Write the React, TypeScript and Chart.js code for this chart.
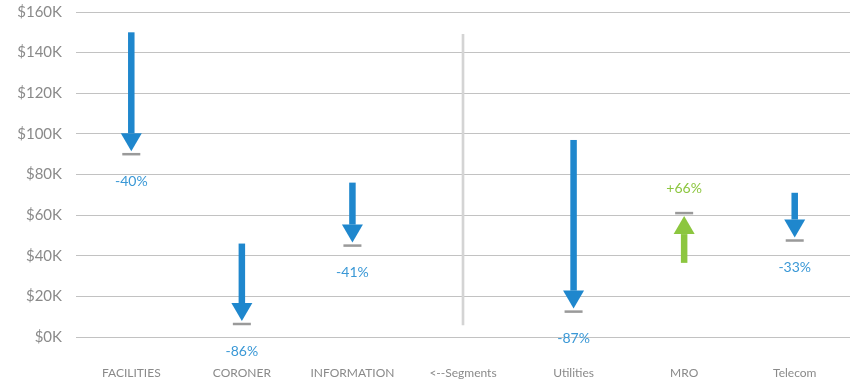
import React, { useEffect, useRef } from 'react';
import { Chart, registerables } from 'chart.js';

Chart.register(...registerables);

const categories = ['FACILITIES', 'CORONER', 'INFORMATION', '<--Segments', 'Utilities', 'MRO', 'Telecom'];
const startValues: (number | null)[] = [150000, 46000, 76000, null, 97000, 36500, 71000];
const endValues: (number | null)[] = [90000, 6400, 45000, null, 12500, 61000, 47500];
const changeLabels = ['-40%', '-86%', '-41%', '', '-87%', '+66%', '-33%'];
const separatorIndex = 3;
const separatorRange: [number, number] = [6000, 149000];
const yMin = 0;
const yMax = 160000;
const yStep = 20000;

const BLUE = '#1f87cd';
const GREEN = '#8cc63f';
const BLUE_TEXT = '#3a98d6';
const GREEN_TEXT = '#8cc63f';
const FONT = 'Lato, "Open Sans", sans-serif';

const arrowPlugin = {
  id: 'arrows',
  afterDatasetsDraw(chart: any) {
    const ctx = chart.ctx;
    const xs = chart.scales.x;
    const ys = chart.scales.y;
    ctx.save();
    for (let i = 0; i < categories.length; i++) {
      const s = startValues[i];
      const e = endValues[i];
      if (s == null || e == null) continue;
      const x = xs.getPixelForValue(i);
      const y0 = ys.getPixelForValue(s);
      const y1 = ys.getPixelForValue(e);
      const dir = y1 > y0 ? 1 : -1;
      const up = dir < 0;
      const color = up ? GREEN : BLUE;
      const tipY = y1 - dir * 3;
      const headBase = tipY - dir * 18;
      const shaftW = 6.5;
      const headW = 21;
      ctx.fillStyle = color;
      ctx.fillRect(x - shaftW / 2, Math.min(y0, headBase), shaftW, Math.abs(headBase - y0));
      ctx.beginPath();
      ctx.moveTo(x - headW / 2, headBase);
      ctx.lineTo(x + headW / 2, headBase);
      ctx.lineTo(x, tipY);
      ctx.closePath();
      ctx.fill();
      ctx.fillStyle = '#9a9a9a';
      ctx.fillRect(x - 9, y1 - 1.25, 18, 2.5);
      ctx.fillStyle = up ? GREEN_TEXT : BLUE_TEXT;
      ctx.font = '14px ' + FONT;
      ctx.textAlign = 'center';
      ctx.textBaseline = 'middle';
      ctx.fillText(changeLabels[i], x, up ? y1 - 25 : y1 + 27);
    }
    ctx.restore();
  },
};

export default function App() {
  const ref = useRef<HTMLCanvasElement | null>(null);
  useEffect(() => {
    if (!ref.current) return;
    const sepData = categories.map((_, i) => (i === separatorIndex ? separatorRange : null));
    const chart = new Chart(ref.current, {
      type: 'bar',
      data: {
        labels: categories,
        datasets: [
          {
            label: 'separator',
            data: sepData as any,
            backgroundColor: '#d4d4d4',
            barThickness: 2,
            borderWidth: 0,
          },
        ],
      },
      options: {
        animation: false,
        responsive: false,
        maintainAspectRatio: false,
        layout: { padding: { top: 12, right: 4, left: 0, bottom: 0 } },
        plugins: { legend: { display: false }, tooltip: { enabled: false } },
        scales: {
          x: {
            grid: { display: false, drawTicks: false },
            border: { display: false },
            ticks: {
              color: '#8a8a8a',
              font: { family: FONT, size: 12 },
              padding: 29,
              maxRotation: 0,
              autoSkip: false,
            },
            afterFit: (s: any) => {
              s.height = 46;
              s.paddingLeft = 0;
              s.paddingRight = 0;
            },
          },
          y: {
            min: yMin,
            max: yMax,
            grid: { color: '#c2c2c2', lineWidth: 1, drawTicks: false },
            border: { display: false },
            ticks: {
              stepSize: yStep,
              color: '#8a8a8a',
              font: { family: FONT, size: 15 },
              padding: 14,
              callback: (v: any) => '$' + Number(v) / 1000 + 'K',
            },
            afterFit: (s: any) => {
              s.width = 76;
              s.paddingTop = 0;
              s.paddingBottom = 0;
            },
          },
        },
      },
      plugins: [arrowPlugin],
    });
    return () => chart.destroy();
  }, []);
  return (
    <div style={{ position: 'fixed', left: 0, top: 0, width: 854, height: 383, background: '#fff' }}>
      <canvas ref={ref} width={854} height={383} style={{ width: 854, height: 383 }} />
    </div>
  );
}
